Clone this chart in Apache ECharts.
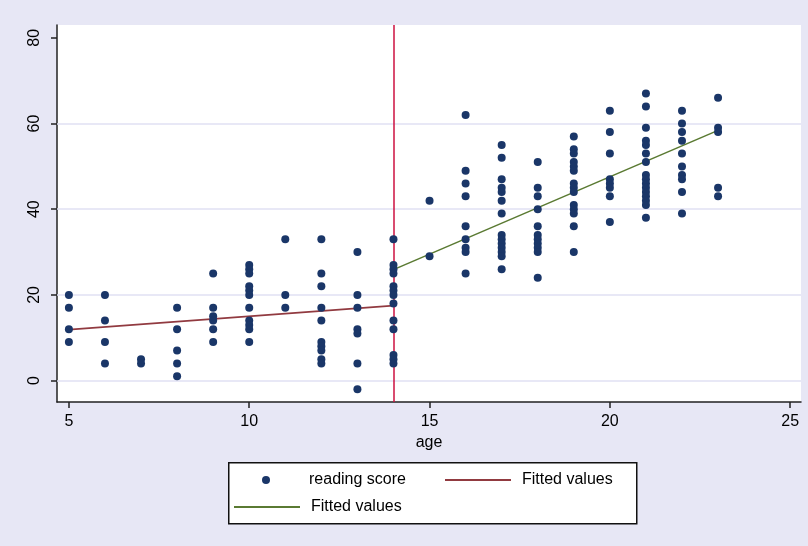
<!DOCTYPE html>
<html>
<head>
<meta charset="utf-8">
<script src="https://cdn.jsdelivr.net/npm/echarts@6/dist/echarts.min.js"></script>
<style>
html,body{margin:0;padding:0;background:#e7e7f5;}
#chart{width:808px;height:546px;}
</style>
</head>
<body>
<div id="chart"></div>
<script>
// ---- data ----
const ages = [5, 6, 7, 8, 9, 10, 11, 12, 13, 14, 15, 16, 17, 18, 19, 20, 21, 22, 23];
const scoresByAge = [
  [20, 17, 12, 9],
  [20, 14, 9, 4],
  [5, 4],
  [17, 12, 7, 4, 1],
  [25, 17, 15, 14, 12, 9],
  [27, 26, 25, 22, 21, 20, 17, 14, 13, 12, 9],
  [33, 20, 17],
  [33, 25, 22, 17, 14, 9, 8, 7, 5, 4],
  [30, 20, 17, 12, 11, 4, -2],
  [33, 27, 26, 25, 22, 21, 20, 18, 14, 12, 6, 5, 4],
  [42, 29],
  [62, 49, 46, 43, 36, 33, 31, 30, 25],
  [55, 52, 47, 45, 44, 42, 39, 34, 33, 32, 31, 30, 29, 26],
  [51, 45, 43, 40, 36, 34, 33, 32, 31, 30, 24],
  [57, 54, 53, 51, 50, 49, 46, 45, 44, 41, 40, 39, 36, 30],
  [63, 58, 53, 47, 46, 45, 43, 37],
  [67, 64, 59, 56, 55, 53, 51, 48, 47, 46, 45, 44, 43, 42, 41, 38],
  [63, 60, 58, 56, 53, 50, 48, 47, 44, 39],
  [66, 59, 58, 45, 43]
];
const fit1X = [5, 14];
const fit1Y = [11.9, 17.5];
const fit2X = [14, 23];
const fit2Y = [25.9, 58.4];
const cutoffAge = 14;
const xTicks = [5, 10, 15, 20, 25];
const yTicks = [0, 20, 40, 60, 80];
const yGridValues = [0, 20, 40, 60];

// ---- build ----
const points = [];
ages.forEach((a, i) => scoresByAge[i].forEach(s => points.push([a, s])));
const fit1 = fit1X.map((x, i) => [x, fit1Y[i]]);
const fit2 = fit2X.map((x, i) => [x, fit2Y[i]]);

const FONT = 'Liberation Sans';
const chart = echarts.init(document.getElementById('chart'));
const legendCommon = {
  orient: 'horizontal',
  padding: 0,
  selectedMode: false,
  textStyle: { fontFamily: FONT, fontSize: 16, color: '#000', padding: [0, 0, 0, 6] },
  formatter: n => (n === 'reading score' ? 'reading score' : 'Fitted values')
};
chart.setOption({
  backgroundColor: '#e7e7f5',
  animation: false,
  grid: { left: 57, right: 7, top: 25, bottom: 144, show: true, backgroundColor: '#ffffff', borderWidth: 0 },
  xAxis: {
    type: 'value', min: 4.67, max: 25.3,
    name: 'age', nameLocation: 'middle', nameGap: 32,
    nameTextStyle: { fontFamily: FONT, fontSize: 16, color: '#000' },
    axisLine: { onZero: false, lineStyle: { color: '#222', width: 1.5 } },
    axisTick: { show: true, length: 6, customValues: xTicks, lineStyle: { color: '#222', width: 1.5 } },
    axisLabel: { customValues: xTicks, fontFamily: FONT, fontSize: 16, color: '#000', margin: 12 },
    splitLine: { show: false }
  },
  yAxis: {
    type: 'value', min: -5, max: 83,
    axisLine: { show: true, onZero: false, lineStyle: { color: '#222', width: 1.5 } },
    axisTick: { show: true, length: 6, customValues: yTicks, lineStyle: { color: '#222', width: 1.5 } },
    axisLabel: { customValues: yTicks, rotate: 90, fontFamily: FONT, fontSize: 16, color: '#000', margin: 14 },
    splitLine: { show: false }
  },
  legend: [
    Object.assign({}, legendCommon, {
      left: 262, top: 472, itemWidth: 8, itemHeight: 8,
      textStyle: { fontFamily: FONT, fontSize: 16, color: '#000', padding: [0, 0, 0, 34] },
      data: [{ name: 'reading score', icon: 'circle' }]
    }),
    Object.assign({}, legendCommon, { left: 445, top: 472, itemWidth: 66, itemHeight: 2, data: [{ name: 'fit1', icon: 'rect' }] }),
    Object.assign({}, legendCommon, { left: 234, top: 499, itemWidth: 66, itemHeight: 2, data: [{ name: 'fit2', icon: 'rect' }] })
  ],
  graphic: [{
    type: 'rect', z: -1, left: 228, top: 462,
    shape: { width: 408, height: 61 },
    style: { fill: '#ffffff', stroke: '#111', lineWidth: 1.5 }
  }],
  series: [
    {
      name: 'grid', type: 'line', data: [], z: 1, silent: true,
      markLine: {
        z: 1, silent: true, symbol: 'none', label: { show: false },
        lineStyle: { color: '#e1e1f3', width: 1.5, type: 'solid' },
        data: yGridValues.map(v => ({ yAxis: v }))
      }
    },
    {
      name: 'reading score', type: 'scatter', data: points, z: 4,
      symbol: 'circle', symbolSize: 8,
      itemStyle: { color: '#1a3668', opacity: 1 }
    },
    {
      name: 'fit1', type: 'line', data: fit1, z: 3, symbol: 'none',
      lineStyle: { color: '#913a40', width: 1.6 }, itemStyle: { color: '#913a40' }
    },
    {
      name: 'fit2', type: 'line', data: fit2, z: 3, symbol: 'none',
      lineStyle: { color: '#5a7a32', width: 1.6 }, itemStyle: { color: '#5a7a32' }
    },
    {
      name: 'cutoff', type: 'line', data: [], z: 2, silent: true,
      markLine: {
        z: 2, silent: true, symbol: 'none', label: { show: false },
        lineStyle: { color: '#cc1040', width: 1.5, type: 'solid' },
        data: [{ xAxis: cutoffAge }]
      }
    }
  ]
});
</script>
</body>
</html>
